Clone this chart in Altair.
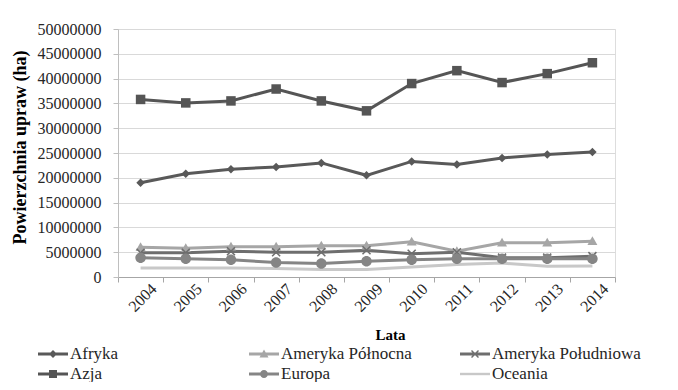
import altair as alt
import pandas as pd

years = [str(y) for y in range(2004, 2015)]
regions = ["Afryka", "Ameryka Północna", "Ameryka Południowa", "Azja", "Europa", "Oceania"]

afryka = [19000000, 20800000, 21700000, 22200000, 23000000, 20500000, 23300000, 22700000, 24000000, 24700000, 25200000]
ameryka_pn = [6000000, 5800000, 6100000, 6100000, 6300000, 6300000, 7100000, 5200000, 6900000, 6900000, 7200000]
ameryka_pd = [4900000, 4900000, 5200000, 5000000, 5000000, 5400000, 4700000, 5000000, 3900000, 3900000, 4200000]
azja = [35800000, 35100000, 35500000, 37900000, 35500000, 33500000, 39000000, 41600000, 39200000, 41000000, 43200000]
europa = [3900000, 3700000, 3500000, 2900000, 2700000, 3200000, 3500000, 3700000, 3700000, 3700000, 3700000]
oceania = [1800000, 1800000, 1800000, 1700000, 1500000, 1500000, 2000000, 2500000, 2800000, 2150000, 2200000]

series = [afryka, ameryka_pn, ameryka_pd, azja, europa, oceania]
colors = ["#595959", "#a6a6a6", "#6e6e6e", "#555555", "#858585", "#c8c8c8"]
y_ticks = list(range(0, 50000001, 5000000))

rows = []
for r, vals in zip(regions, series):
    for yr, v in zip(years, vals):
        rows.append({"rok": yr, "region": r, "wartosc": v})
df = pd.DataFrame(rows)

# chart markers (unit paths, size 100 -> unit 5px)
m_diamond = "M0,-0.85L0.85,0L0,0.85L-0.85,0Z"
m_triangle = "M0,-1L1,0.75H-1Z"
m_x = ("M-0.69,-0.91L0.91,0.69L0.69,0.91L-0.91,-0.69Z "
       "M0.69,-0.91L0.91,-0.69L-0.69,0.91L-0.91,0.69Z")
m_square = "M-0.95,-0.95H0.95V0.95H-0.95Z"
m_circle = "M1.05,0A1.05,1.05,0,1,1,-1.05,0A1.05,1.05,0,1,1,1.05,0Z"
m_none = "M0,0Z"

# legend symbols (size 400 -> unit 10px): line + marker
L = "M-1.5,-0.15H1.5V0.15H-1.5Z "
Lt = "M-1.5,-0.12H1.5V0.12H-1.5Z"
lg_shapes = [
    L + "M0,-0.4L0.4,0L0,0.4L-0.4,0Z",
    L + "M0,-0.45L0.45,0.35H-0.45Z",
    L + "M-0.4,-0.3L-0.3,-0.4L0.4,0.3L0.3,0.4Z M0.3,-0.4L0.4,-0.3L-0.3,0.4L-0.4,0.3Z",
    L + "M-0.4,-0.4H0.4V0.4H-0.4Z",
    L + "M0.4,0A0.4,0.4,0,1,1,-0.4,0A0.4,0.4,0,1,1,0.4,0Z",
    Lt,
]

FONT = "Liberation Serif"

x_enc = alt.X(
    "rok:O",
    scale=alt.Scale(type="band", paddingInner=0, paddingOuter=0),
    axis=alt.Axis(
        title="Lata", titleFont=FONT, titleFontSize=15, titleFontWeight="bold",
        titleColor="#000000", titleX=272, titleY=62, titleBaseline="alphabetic",
        titleAlign="center",
        labelAngle=-45, labelAlign="right", labelBaseline="middle",
        labelFont=FONT, labelFontSize=16, labelColor="#262626",
        labelOffset=13, labelPadding=4,
        tickBand="extent", tickSize=5, tickColor="#a6a6a6",
        domainColor="#a6a6a6", grid=False,
    ),
)
y_enc = alt.Y(
    "wartosc:Q",
    scale=alt.Scale(domain=[0, 50000000], nice=False),
    axis=alt.Axis(
        values=y_ticks, format="d",
        title="Powierzchnia upraw (ha)", titleFont=FONT, titleFontSize=18,
        titleFontWeight="bold", titleColor="#000000", titleAngle=270,
        titleX=-98, titleY=118, titleAlign="center", titleBaseline="middle",
        labelFont=FONT, labelFontSize=16, labelColor="#262626", labelPadding=12,
        tickSize=5, tickColor="#bfbfbf", domainColor="#bfbfbf",
        gridColor="#d9d9d9", gridWidth=1,
    ),
)
color_a = alt.Color("region:N", scale=alt.Scale(domain=regions, range=colors), legend=None)

lines = alt.Chart(df).mark_line(strokeWidth=3).encode(
    x=x_enc, y=y_enc, color=color_a,
    strokeWidth=alt.StrokeWidth("region:N", scale=alt.Scale(domain=regions, range=[3, 3, 3, 3, 3, 2.5]), legend=None),
)

points = alt.Chart(df).transform_filter(
    alt.datum.region != "Oceania"
).mark_point(filled=True, size=100, opacity=1).encode(
    x=x_enc, y=y_enc, color=color_a,
    shape=alt.Shape("region:N", scale=alt.Scale(domain=regions, range=[m_diamond, m_triangle, m_x, m_square, m_circle, m_none]), legend=None),
)

legend_layer = alt.Chart(df).transform_filter("false").mark_point(filled=True, opacity=1).encode(
    color=alt.Color("region:N", scale=alt.Scale(domain=regions, range=colors),
                    legend=alt.Legend(title=None, orient="none", legendX=-75, legendY=315,
                                      direction="horizontal", columns=3, gridAlign="all",
                                      columnPadding=30, rowPadding=2,
                                      symbolSize=400, symbolStrokeWidth=0,
                                      labelFont=FONT, labelFontSize=17, labelColor="#262626",
                                      labelOffset=7, labelLimit=400)),
    shape=alt.Shape("region:N", scale=alt.Scale(domain=regions, range=lg_shapes)),
)

chart = alt.layer(lines, points, legend_layer).resolve_scale(
    color="independent", shape="independent"
).properties(
    width=497, height=248,
    autosize=alt.AutoSizeParams(type="none"),
    padding={"left": 110, "top": 21, "right": 55, "bottom": 105},
).configure_view(stroke=None).configure(background="#ffffff")

chart.save("out.html", embed_options={"renderer": "svg", "actions": False})
